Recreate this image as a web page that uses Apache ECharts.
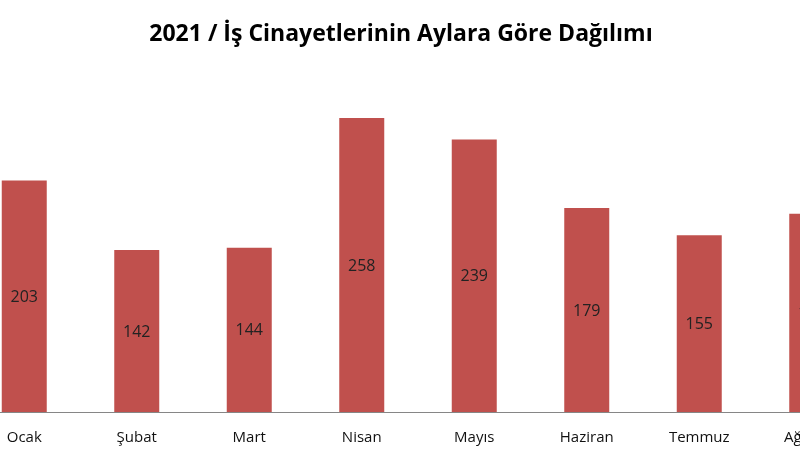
<html>
  <head>
    <meta charset="utf-8" />
    <title>ECharts</title>
    <script src="https://cdn.jsdelivr.net/npm/echarts@6/dist/echarts.min.js"></script>
  </head>
  <body style="margin:0;overflow:hidden">
    <!-- grafik sayfadan biraz daha geniş: Ocak ve Ağustos kenarlarda kesik -->
    <div id="main" style="width:900px;height:460px;margin-left:-32px;"></div>
    <script type="text/javascript">
      // aylar ve değerler
      var months = ['Ocak', 'Şubat', 'Mart', 'Nisan', 'Mayıs', 'Haziran', 'Temmuz', 'Ağustos'];
      var counts = [203, 142, 144, 258, 239, 179, 155, 174];

      var myChart = echarts.init(document.getElementById('main'));
      var option = {
        animation: false,
        title: {
          text: '2021 / İş Cinayetlerinin Aylara Göre Dağılımı',
          left: 428,
          textAlign: 'center',
          top: 18,
          textStyle: {
            fontFamily: 'Open Sans',
            fontWeight: 'bold',
            fontSize: 23,
            color: '#000'
          }
        },
        grid: {
          left: 0,
          right: 0,
          top: 70,
          bottom: 48
        },
        xAxis: {
          type: 'category',
          data: months,
          axisLine: { lineStyle: { color: '#868686' } },
          axisTick: { length: 5, lineStyle: { color: '#868686' } },
          axisLabel: {
            margin: 18,
            fontFamily: 'Open Sans',
            fontSize: 15,
            color: '#111'
          }
        },
        yAxis: {
          type: 'value',
          min: 0,
          max: 300,
          show: false,
          splitLine: { show: false }
        },
        series: [
          {
            type: 'bar',
            data: counts,
            barWidth: 45,
            itemStyle: { color: '#C0504D' },
            label: {
              show: true,
              position: 'inside',
              offset: [0, 1],
              fontFamily: 'Open Sans',
              fontSize: 16,
              color: '#222'
            }
          }
        ]
      };
      myChart.setOption(option);
    </script>
  </body>
</html>
